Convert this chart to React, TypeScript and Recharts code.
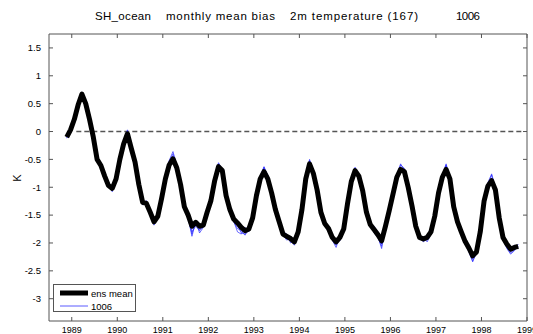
import React from 'react';
import { LineChart, Line, XAxis, YAxis, ReferenceLine } from 'recharts';

const FONT = '"Liberation Sans", Arial, Helvetica, sans-serif';

const yearTicks = [1989, 1990, 1991, 1992, 1993, 1994, 1995, 1996, 1997, 1998, 1999];
const kTicks = [-3, -2.5, -2, -1.5, -1, -0.5, 0, 0.5, 1, 1.5];

// monthly time axis (decimal years)
const firstMonth = 1988.89;
const monthsPerYear = 12;

const ensMean = [
  -0.10, 0.03, 0.22, 0.48, 0.67, 0.50, 0.22, -0.10, -0.50, -0.61,
  -0.80, -0.97, -1.02, -0.85, -0.50, -0.22, -0.04, -0.30, -0.55, -0.95,
  -1.27, -1.29, -1.45, -1.62, -1.52, -1.20, -0.85, -0.60, -0.49, -0.65,
  -0.95, -1.35, -1.50, -1.70, -1.63, -1.70, -1.68, -1.45, -1.24, -0.88,
  -0.63, -0.70, -1.15, -1.40, -1.57, -1.64, -1.72, -1.78, -1.75, -1.55,
  -1.15, -0.85, -0.72, -0.85, -1.10, -1.40, -1.62, -1.84, -1.88, -1.92,
  -1.98, -1.80, -1.40, -0.85, -0.58, -0.75, -1.05, -1.45, -1.65, -1.74,
  -1.90, -1.98, -1.90, -1.75, -1.30, -0.90, -0.70, -0.80, -1.06, -1.45,
  -1.67, -1.76, -1.85, -1.96, -1.70, -1.42, -1.12, -0.82, -0.68, -0.72,
  -1.00, -1.33, -1.70, -1.90, -1.93, -1.90, -1.80, -1.52, -1.10, -0.82,
  -0.68, -0.85, -1.35, -1.62, -1.80, -1.97, -2.09, -2.23, -2.16, -1.80,
  -1.25, -0.98, -0.88, -1.05, -1.55, -1.90, -2.02, -2.11, -2.08, -2.06,
];

const member1 = [
  -0.12, 0.05, 0.24, 0.50, 0.71, 0.52, 0.20, -0.12, -0.48, -0.63,
  -0.82, -1.00, -1.06, -0.88, -0.48, -0.18, 0.03, -0.28, -0.57, -0.98,
  -1.22, -1.35, -1.48, -1.66, -1.50, -1.18, -0.80, -0.52, -0.36, -0.60,
  -0.98, -1.30, -1.55, -1.88, -1.62, -1.76, -1.66, -1.42, -1.20, -0.82,
  -0.56, -0.68, -1.18, -1.44, -1.55, -1.68, -1.82, -1.84, -1.72, -1.52,
  -1.10, -0.80, -0.63, -0.82, -1.12, -1.38, -1.65, -1.86, -1.95, -1.90,
  -2.02, -1.76, -1.36, -0.80, -0.50, -0.72, -1.08, -1.48, -1.70, -1.78,
  -1.95, -2.08, -1.88, -1.70, -1.28, -0.86, -0.64, -0.78, -1.10, -1.50,
  -1.72, -1.70, -1.80, -2.02, -1.72, -1.40, -1.08, -0.78, -0.58, -0.70,
  -1.04, -1.36, -1.74, -1.88, -1.98, -1.92, -1.78, -1.50, -1.06, -0.78,
  -0.58, -0.84, -1.38, -1.66, -1.84, -2.02, -2.14, -2.32, -2.18, -1.76,
  -1.20, -0.92, -0.76, -1.02, -1.58, -1.94, -2.08, -2.18, -2.12, -2.02,
];

const member2 = [
  -0.08, 0.02, 0.20, 0.46, 0.64, 0.48, 0.24, -0.08, -0.52, -0.58,
  -0.78, -0.95, -1.08, -0.82, -0.52, -0.24, -0.06, -0.32, -0.52, -0.92,
  -1.32, -1.24, -1.40, -1.68, -1.55, -1.22, -0.88, -0.62, -0.44, -0.68,
  -0.92, -1.38, -1.46, -1.80, -1.70, -1.78, -1.70, -1.48, -1.26, -0.90,
  -0.66, -0.74, -1.12, -1.36, -1.60, -1.80, -1.84, -1.72, -1.80, -1.58,
  -1.18, -0.86, -0.66, -0.78, -1.08, -1.44, -1.60, -1.80, -1.84, -2.00,
  -1.94, -1.84, -1.44, -0.88, -0.62, -0.78, -1.02, -1.42, -1.60, -1.72,
  -1.86, -1.95, -1.96, -1.78, -1.32, -0.94, -0.74, -0.84, -1.02, -1.40,
  -1.62, -1.82, -1.90, -2.06, -1.66, -1.44, -1.15, -0.86, -0.70, -0.68,
  -0.96, -1.30, -1.66, -1.94, -1.90, -1.98, -1.84, -1.56, -1.14, -0.86,
  -0.62, -0.88, -1.30, -1.58, -1.76, -1.94, -2.12, -2.28, -2.20, -1.84,
  -1.30, -1.02, -0.84, -1.08, -1.52, -1.86, -2.06, -2.16, -2.04, -2.10,
];

const member3 = [
  -0.11, 0.04, 0.21, 0.47, 0.69, 0.50, 0.21, -0.11, -0.50, -0.62,
  -0.81, -0.99, -1.04, -0.86, -0.49, -0.20, 0.00, -0.29, -0.56, -0.93,
  -1.25, -1.32, -1.50, -1.64, -1.48, -1.22, -0.86, -0.56, -0.40, -0.63,
  -0.97, -1.33, -1.52, -1.84, -1.60, -1.82, -1.72, -1.44, -1.22, -0.86,
  -0.58, -0.72, -1.16, -1.42, -1.62, -1.74, -1.78, -1.86, -1.76, -1.54,
  -1.13, -0.82, -0.64, -0.80, -1.14, -1.42, -1.66, -1.82, -1.92, -1.96,
  -2.04, -1.78, -1.38, -0.84, -0.52, -0.74, -1.06, -1.46, -1.68, -1.80,
  -1.94, -2.04, -1.92, -1.74, -1.28, -0.88, -0.66, -0.80, -1.08, -1.48,
  -1.70, -1.78, -1.88, -2.10, -1.68, -1.42, -1.10, -0.80, -0.60, -0.66,
  -1.02, -1.34, -1.72, -1.92, -1.96, -1.94, -1.82, -1.52, -1.08, -0.80,
  -0.60, -0.86, -1.36, -1.64, -1.82, -1.98, -2.16, -2.34, -2.16, -1.78,
  -1.24, -0.96, -0.78, -1.04, -1.56, -1.92, -2.10, -2.20, -2.14, -2.06,
];

const zeroLineFrom = 1989.1;
const zeroLineTo = 1998.88;
const xDomain: [number, number] = [1988.5, 1999];
const yDomain: [number, number] = [-3.4, 1.75];

const data = ensMean.map((v, i) => ({
  t: firstMonth + i / monthsPerYear,
  mean: v,
  m1: member1[i],
  m2: member2[i],
  m3: member3[i],
}));

const AXIS = '#555555';
const BLUE = '#2a2aff';
const TICK_LEN = 4;

const BottomTick = (props: any) => {
  const { x, y, payload } = props;
  return (
    <g>
      <line x1={x} y1={y} x2={x} y2={y - TICK_LEN} stroke={AXIS} strokeWidth={1} />
      <text x={x} y={y + 12} textAnchor="middle" fontSize={9} fontFamily={FONT} fill="#000">
        {payload.value}
      </text>
    </g>
  );
};

const TopTick = (props: any) => {
  const { x, y } = props;
  return <line x1={x} y1={y} x2={x} y2={y + TICK_LEN} stroke={AXIS} strokeWidth={1} />;
};

const LeftTick = (props: any) => {
  const { x, y, payload } = props;
  return (
    <g>
      <line x1={x} y1={y} x2={x + TICK_LEN} y2={y} stroke={AXIS} strokeWidth={1} />
      <text x={x - 8} y={y + 3.3} textAnchor="end" fontSize={9.5} fontFamily={FONT} fill="#000">
        {payload.value}
      </text>
    </g>
  );
};

const RightTick = (props: any) => {
  const { x, y } = props;
  return <line x1={x} y1={y} x2={x - TICK_LEN} y2={y} stroke={AXIS} strokeWidth={1} />;
};

export default function App() {
  return (
    <div style={{ position: 'absolute', left: 0, top: 0, width: 533, height: 334, background: '#fff', fontFamily: FONT }}>
      <LineChart width={533} height={334} data={data} margin={{ top: 33, right: 5, bottom: 0, left: 0 }}>
        <XAxis
          dataKey="t"
          type="number"
          domain={xDomain}
          ticks={yearTicks}
          allowDataOverflow
          interval={0}
          height={13}
          tickSize={0}
          tickMargin={0}
          tickLine={false}
          stroke={AXIS}
          tick={<BottomTick />}
        />
        <XAxis
          xAxisId="top"
          orientation="top"
          dataKey="t"
          type="number"
          domain={xDomain}
          ticks={yearTicks}
          allowDataOverflow
          interval={0}
          height={1}
          tickSize={0}
          tickMargin={0}
          tickLine={false}
          stroke={AXIS}
          tick={<TopTick />}
        />
        <YAxis
          type="number"
          domain={yDomain}
          ticks={kTicks}
          allowDataOverflow
          interval={0}
          width={49}
          tickSize={0}
          tickMargin={0}
          tickLine={false}
          stroke={AXIS}
          tick={<LeftTick />}
        />
        <YAxis
          yAxisId="right"
          orientation="right"
          type="number"
          domain={yDomain}
          ticks={kTicks}
          allowDataOverflow
          interval={0}
          width={1}
          tickSize={0}
          tickMargin={0}
          tickLine={false}
          stroke={AXIS}
          tick={<RightTick />}
        />
        <ReferenceLine
          segment={[{ x: zeroLineFrom, y: 0 }, { x: zeroLineTo, y: 0 }]}
          stroke="#555555"
          strokeWidth={1.5}
          strokeDasharray="5 3"
        />
        <Line dataKey="m1" type="linear" stroke={BLUE} strokeWidth={0.7} dot={false} isAnimationActive={false} />
        <Line dataKey="m2" type="linear" stroke={BLUE} strokeWidth={0.7} dot={false} isAnimationActive={false} />
        <Line dataKey="m3" type="linear" stroke={BLUE} strokeWidth={0.7} dot={false} isAnimationActive={false} />
        <Line dataKey="mean" type="linear" stroke="#000" strokeWidth={5} dot={false} isAnimationActive={false} strokeLinejoin="round" />
      </LineChart>
      <svg width={533} height={334} style={{ position: 'absolute', left: 0, top: 0, pointerEvents: 'none' }}>
        <g fontFamily={FONT} fontSize={11.5} fill="#000">
          <text x={95} y={19.5} textLength={56} lengthAdjust="spacing">SH_ocean</text>
          <text x={166} y={19.5} textLength={109} lengthAdjust="spacing">monthly mean bias</text>
          <text x={290} y={19.5} textLength={128} lengthAdjust="spacing">2m temperature (167)</text>
          <text x={456} y={19.5} textLength={24} lengthAdjust="spacing">1006</text>
        </g>
        <text x={17} y={178} fontFamily={FONT} fontSize={11} textAnchor="middle" dominantBaseline="central" transform="rotate(-90 17 178)">K</text>
        <g>
          <rect x={53.5} y={284.5} width={82} height={27} fill="#fff" stroke={AXIS} strokeWidth={1} />
          <line x1={60} y1={293} x2={88} y2={293} stroke="#000" strokeWidth={5} />
          <text x={91} y={296.5} fontFamily={FONT} fontSize={9.5} fill="#000">ens mean</text>
          <line x1={60} y1={306} x2={88} y2={306} stroke="#5a5aff" strokeWidth={1} />
          <text x={91} y={309.5} fontFamily={FONT} fontSize={9.5} fill="#000">1006</text>
        </g>
      </svg>
    </div>
  );
}
